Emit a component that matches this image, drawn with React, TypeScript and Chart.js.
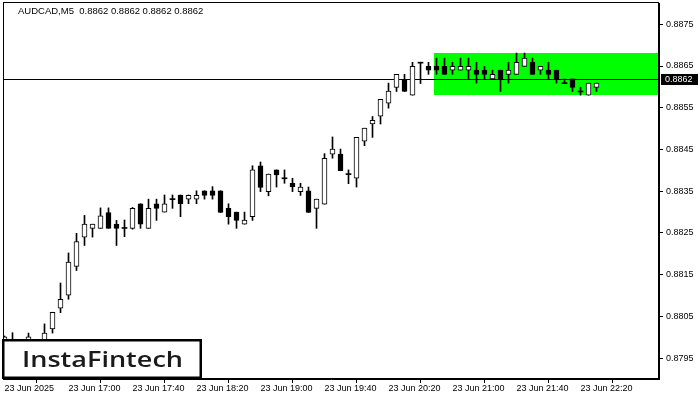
import { useEffect, useRef } from "react";
import { Chart, registerables } from "chart.js";

Chart.register(...registerables);

// ---- data (AUDCAD M5, 16:20 .. 22:30) ----
const opens = [
  0.87992, 0.8799, 0.87985, 0.8799, 0.8799, 0.8799, 0.8802, 0.8807, 0.88101, 0.8817,
  0.8824, 0.88261, 0.88261, 0.88299, 0.88271, 0.88262, 0.88261, 0.8832, 0.88261, 0.8832,
  0.883, 0.88331, 0.88341, 0.88331, 0.88331, 0.88351, 0.88351, 0.88351, 0.88309, 0.883,
  0.88271, 0.88289, 0.88411, 0.88349, 0.88401, 0.88381, 0.88369, 0.88349, 0.88351, 0.88309,
  0.88319, 0.88439, 0.88439, 0.88391, 0.88381, 0.8847, 0.88511, 0.8853, 0.88561, 0.88599,
  0.88618, 0.8858, 0.88658, 0.88649, 0.88649, 0.88649, 0.8864, 0.8864, 0.8864, 0.8864,
  0.8864, 0.88619, 0.8864, 0.8863, 0.8863, 0.88649, 0.88659, 0.8864, 0.8864, 0.8864,
  0.88609, 0.88619, 0.88589, 0.8858, 0.88599,
];
const highs = [
  0.88003, 0.88011, 0.87992, 0.8801, 0.87993, 0.88032, 0.8806, 0.8813, 0.88202, 0.88249,
  0.88292, 0.88271, 0.8831, 0.8831, 0.8828, 0.88281, 0.88311, 0.8832, 0.88331, 0.88331,
  0.88341, 0.88341, 0.88341, 0.88341, 0.88351, 0.88351, 0.88361, 0.88351, 0.8832, 0.883,
  0.883, 0.88411, 0.8842, 0.88391, 0.88401, 0.88401, 0.88381, 0.88369, 0.8836, 0.88331,
  0.8844, 0.8848, 0.88451, 0.88401, 0.88479, 0.88501, 0.88529, 0.8857, 0.88609, 0.8863,
  0.8863, 0.88659, 0.88659, 0.88659, 0.88669, 0.88669, 0.88659, 0.88669, 0.88669, 0.88659,
  0.88649, 0.8864, 0.8864, 0.88659, 0.88681, 0.88681, 0.88669, 0.88649, 0.88659, 0.8864,
  0.88619, 0.88619, 0.88599, 0.88609, 0.88609,
];
const lows = [
  0.87985, 0.87975, 0.8797, 0.87985, 0.87975, 0.87985, 0.8801, 0.88059, 0.88091, 0.8816,
  0.8822, 0.8824, 0.88261, 0.88261, 0.8822, 0.88241, 0.88259, 0.88261, 0.88261, 0.8828,
  0.883, 0.88309, 0.88289, 0.8832, 0.8832, 0.88331, 0.88331, 0.88299, 0.88271, 0.88261,
  0.88271, 0.8828, 0.88349, 0.88339, 0.8836, 0.88369, 0.88349, 0.8834, 0.88299, 0.88261,
  0.88319, 0.88429, 0.88399, 0.88368, 0.8836, 0.88459, 0.88479, 0.88511, 0.88549, 0.88589,
  0.88589, 0.8858, 0.88608, 0.8863, 0.8863, 0.8863, 0.8863, 0.8864, 0.88619, 0.88609,
  0.88619, 0.88619, 0.88589, 0.88609, 0.8863, 0.88649, 0.8863, 0.8863, 0.88619, 0.88609,
  0.88609, 0.88589, 0.8858, 0.8858, 0.88589,
];
const closes = [
  0.88001, 0.87985, 0.8798, 0.88001, 0.87985, 0.8801, 0.8806, 0.88091, 0.8818, 0.88229,
  0.88271, 0.88271, 0.88291, 0.88261, 0.88261, 0.88262, 0.88309, 0.88271, 0.88309, 0.88309,
  0.8832, 0.88331, 0.8832, 0.8834, 0.8834, 0.8834, 0.8834, 0.88299, 0.88289, 0.8828,
  0.88281, 0.88401, 0.88359, 0.88391, 0.88389, 0.88381, 0.8836, 0.8836, 0.88299, 0.88331,
  0.88429, 0.88451, 0.88399, 0.88391, 0.88479, 0.88501, 0.8852, 0.8857, 0.8859, 0.8863,
  0.88589, 0.88649, 0.88658, 0.8864, 0.8864, 0.8863, 0.88649, 0.88649, 0.88649, 0.8863,
  0.8863, 0.8863, 0.88619, 0.8864, 0.88659, 0.88669, 0.8863, 0.88649, 0.8863, 0.88619,
  0.88609, 0.88599, 0.88589, 0.88609, 0.88609,
];

const timeLabels = [
  "23 Jun 2025",
  "23 Jun 17:00",
  "23 Jun 17:40",
  "23 Jun 18:20",
  "23 Jun 19:00",
  "23 Jun 19:40",
  "23 Jun 20:20",
  "23 Jun 21:00",
  "23 Jun 21:40",
  "23 Jun 22:20",
];
const timeLabelIndices = [0, 8, 16, 24, 32, 40, 48, 56, 64, 72];
const priceTicks = [0.8795, 0.8805, 0.8815, 0.8825, 0.8835, 0.8845, 0.8855, 0.8865, 0.8875];

const currentPrice = 0.8862;
const currentPriceText = "0.8862";
const zoneTop = 0.88681;
const zoneBottom = 0.88581;
const zoneStartIndex = 53.7;
const titleText = "AUDCAD,M5  0.8862 0.8862 0.8862 0.8862";
const logoText = "InstaFintech";

const FONT = "'Liberation Sans', Arial, sans-serif";

export default function App() {
  const canvasRef = useRef<HTMLCanvasElement | null>(null);

  useEffect(() => {
    document.body.style.margin = "0";
    const canvas = canvasRef.current;
    if (!canvas) return;

    const bodyData = opens.map((o, i) => {
      const c = closes[i];
      if (Math.abs(o - c) < 0.00002) {
        return { x: i, y: [o - 0.000012, o + 0.000012] };
      }
      return { x: i, y: [Math.min(o, c), Math.max(o, c)] };
    });
    const bodyFill = opens.map((o, i) => {
      const c = closes[i];
      if (Math.abs(o - c) < 0.00002) return "#000000";
      return c > o ? "#ffffff" : "#000000";
    });
    const bodyBorder = opens.map((o, i) => (Math.abs(o - closes[i]) < 0.00002 ? 0 : 1));
    const wickData = lows.map((l, i) => ({ x: i, y: [l, highs[i]] }));

    const overlay = {
      id: "mtOverlay",
      beforeDatasetsDraw(chart: any) {
        const { ctx, chartArea, scales } = chart;
        const xs = scales.x;
        const ys = scales.y;
        ctx.save();
        // green zone
        const zx = Math.round(xs.getPixelForValue(zoneStartIndex));
        const zt = Math.round(ys.getPixelForValue(zoneTop));
        const zb = Math.round(ys.getPixelForValue(zoneBottom));
        ctx.fillStyle = "#00ff00";
        ctx.fillRect(zx, zt, chartArea.right - zx, zb - zt);
        // current price line
        const py = Math.round(ys.getPixelForValue(currentPrice)) + 0.5;
        ctx.strokeStyle = "#000000";
        ctx.lineWidth = 1;
        ctx.beginPath();
        ctx.moveTo(chartArea.left, py);
        ctx.lineTo(chartArea.right, py);
        ctx.stroke();
        ctx.restore();
      },
      afterDraw(chart: any) {
        const { ctx, chartArea, scales } = chart;
        const ys = scales.y;
        ctx.save();
        // frame
        ctx.strokeStyle = "#000000";
        ctx.lineWidth = 1;
        ctx.strokeRect(
          chartArea.left + 0.5,
          chartArea.top - 0.5,
          chartArea.right - chartArea.left - 1,
          chartArea.bottom - chartArea.top
        );
        // price tag on axis
        const py = Math.round(ys.getPixelForValue(currentPrice));
        ctx.fillStyle = "#000000";
        ctx.fillRect(chartArea.right + 2, py - 5, 37, 11);
        ctx.fillStyle = "#ffffff";
        ctx.font = `9px ${FONT}`;
        ctx.textBaseline = "middle";
        ctx.textAlign = "left";
        ctx.fillText(currentPriceText, chartArea.right + 6, py + 0.5);
        // title
        ctx.fillStyle = "#000000";
        ctx.font = `9.5px ${FONT}`;
        ctx.textBaseline = "middle";
        ctx.fillText(titleText, 18, 11);
        // logo box
        ctx.fillStyle = "#000000";
        ctx.fillRect(2, 339, 200, 40);
        ctx.fillStyle = "#ffffff";
        ctx.fillRect(4.5, 341.5, 195, 35);
        ctx.fillStyle = "#1a1a1a";
        ctx.font = `600 21px 'Open Sans', sans-serif`;
        ctx.textBaseline = "alphabetic";
        const w = ctx.measureText(logoText).width;
        const target = 161;
        ctx.translate(22, 367);
        ctx.scale(target / w, 1);
        ctx.fillText(logoText, 0, 0);
        ctx.restore();
      },
    };

    const chart = new Chart(canvas, {
      type: "bar",
      data: {
        datasets: [
          {
            label: "body",
            data: bodyData as any,
            backgroundColor: bodyFill,
            borderColor: "#000000",
            borderWidth: bodyBorder,
            borderSkipped: false,
            barThickness: 5,
            grouped: false,
            order: 0,
          } as any,
          {
            label: "wick",
            data: wickData as any,
            backgroundColor: "#000000",
            borderWidth: 0,
            barThickness: 1,
            grouped: false,
            order: 1,
          } as any,
        ],
      },
      options: {
        animation: false,
        responsive: false,
        devicePixelRatio: 1,
        events: [],
        layout: { padding: { left: 3, top: 3, right: 0, bottom: 0 } },
        plugins: {
          legend: { display: false },
          tooltip: { enabled: false },
          title: { display: false },
        },
        scales: {
          x: {
            type: "linear",
            min: -0.1875,
            max: 81.8125,
            offset: false,
            grid: {
              display: true,
              drawOnChartArea: false,
              drawTicks: true,
              tickLength: 4,
              color: "#000000",
            },
            border: { display: true, color: "#000000" },
            afterBuildTicks: (scale: any) => {
              scale.ticks = timeLabelIndices.map((v) => ({ value: v }));
            },
            afterFit: (scale: any) => {
              scale.height = 21;
              scale.paddingLeft = 0;
              scale.paddingRight = 0;
            },
            ticks: {
              autoSkip: false,
              maxRotation: 0,
              minRotation: 0,
              align: "start",
              padding: 0,
              color: "#000000",
              font: { family: FONT, size: 9 },
              callback: (value: any) => {
                const k = timeLabelIndices.indexOf(Number(value));
                return k >= 0 ? timeLabels[k] : "";
              },
            },
          },
          y: {
            type: "linear",
            position: "right",
            min: 0.879,
            max: 0.88801,
            grid: {
              display: true,
              drawOnChartArea: false,
              drawTicks: true,
              tickLength: 4,
              color: "#000000",
            },
            border: { display: true, color: "#000000" },
            afterBuildTicks: (scale: any) => {
              scale.ticks = priceTicks.map((v) => ({ value: v }));
            },
            afterFit: (scale: any) => {
              scale.width = 41;
              scale.paddingTop = 0;
              scale.paddingBottom = 0;
            },
            ticks: {
              padding: 3,
              color: "#000000",
              font: { family: FONT, size: 9 },
              callback: (value: any) => Number(value).toFixed(4),
            },
          },
        },
      } as any,
      plugins: [overlay],
    });

    return () => {
      chart.destroy();
    };
  }, []);

  return (
    <div style={{ width: 700, height: 400, position: "relative", background: "#ffffff" }}>
      <canvas ref={canvasRef} width={700} height={400} style={{ display: "block" }} />
    </div>
  );
}
